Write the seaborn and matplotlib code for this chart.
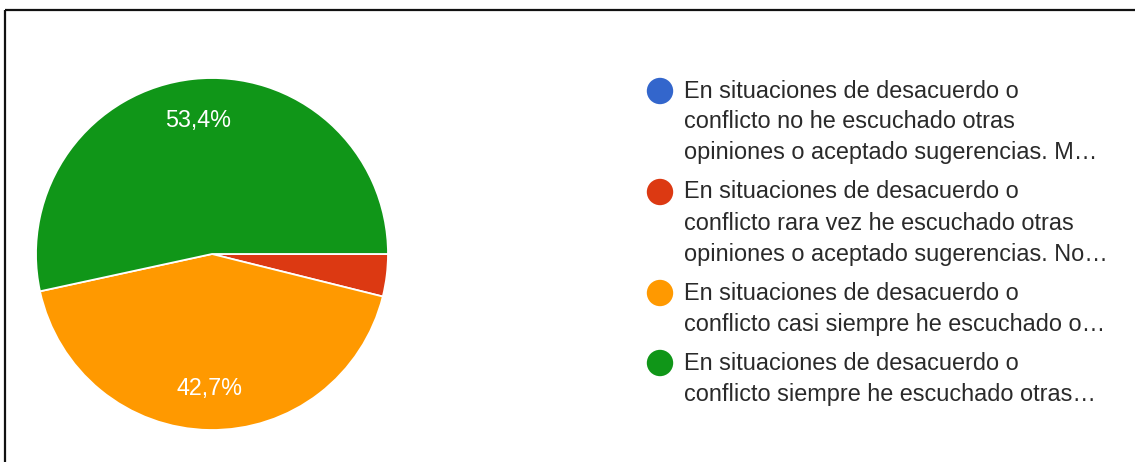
import matplotlib
matplotlib.use("Agg")
import matplotlib.pyplot as plt
import seaborn as sns

# survey answers (count of responses per option)
labels = [
    "En situaciones de desacuerdo o\nconflicto no he escuchado otras\nopiniones o aceptado sugerencias. M\u2026",
    "En situaciones de desacuerdo o\nconflicto rara vez he escuchado otras\nopiniones o aceptado sugerencias. No\u2026",
    "En situaciones de desacuerdo o\nconflicto casi siempre he escuchado o\u2026",
    "En situaciones de desacuerdo o\nconflicto siempre he escuchado otras\u2026",
]
counts = [0, 4, 44, 55]
colors = ["#3366cc", "#dc3912", "#ff9900", "#109618"]

sns.set_theme(style="white")
sns.set_palette(colors)
plt.rcParams["font.family"] = ["Liberation Sans", "DejaVu Sans"]

W, H = 1135, 462
fig = plt.figure(figsize=(W / 100, H / 100), dpi=100)
fig.patch.set_facecolor("white")

# pie, centre (212, 254) px, radius 176 px
cx, cy, r = 212, 254, 176
ax = fig.add_axes([(cx - r) / W, (H - cy - r) / H, 2 * r / W, 2 * r / H])


def fmt(p):
    return f"{p:.1f}".replace(".", ",") + "%" if p > 5 else ""


wedges, _, autotexts = ax.pie(
    counts,
    colors=sns.color_palette(colors),
    startangle=0,
    counterclock=False,
    autopct=fmt,
    pctdistance=0.765,
    radius=1,
    wedgeprops=dict(edgecolor="white", linewidth=1.3),
    textprops=dict(color="white", fontsize=16.8),
)
ax.set_xlim(-1.0, 1.0)
ax.set_ylim(-1.0, 1.0)
ax.axis("off")

# overlay in pixel coordinates for the legend and the frame
ov = fig.add_axes([0, 0, 1, 1], facecolor="none")
ov.set_xlim(0, W)
ov.set_ylim(H, 0)
ov.axis("off")

# frame of the screenshot (top and left only)
ov.plot([5, W], [10, 10], color="#111111", lw=1.6, solid_capstyle="butt")
ov.plot([5, 5], [10, H], color="#111111", lw=1.6, solid_capstyle="butt")

y = 91
line_h = 31
for lab, col in zip(labels, colors):
    ov.scatter([660], [y], s=19 ** 2, color=col, edgecolor="none", zorder=3)
    lines = lab.split("\n")
    for i, ln in enumerate(lines):
        ov.text(684, y + i * line_h, ln, fontsize=16.9, color="#2a2a2a",
                va="center", ha="left")
    y += len(lines) * line_h + 8

fig.savefig("out.png", dpi=100, facecolor="white")
